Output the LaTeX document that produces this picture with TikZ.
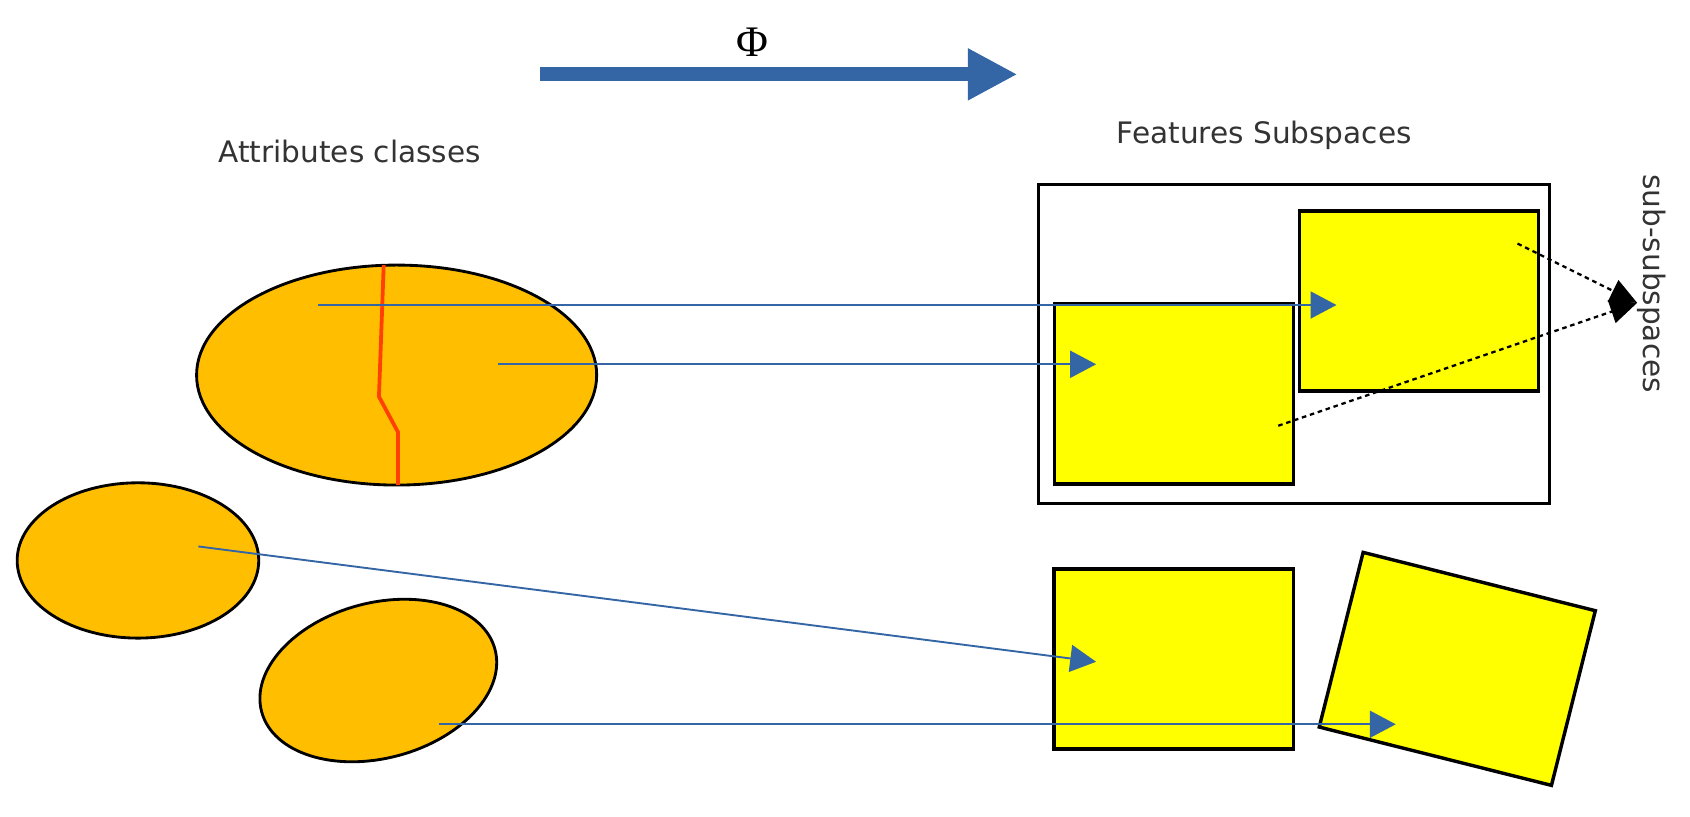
\documentclass[tikz,border=0pt]{standalone}
\usepackage{fontspec}
\setmainfont{DejaVu Sans}
\newfontfamily\phifont{Liberation Serif}
\usetikzlibrary{shapes.geometric,arrows.meta}

\definecolor{attrorange}{HTML}{FFBF00}
\definecolor{featyellow}{HTML}{FFFF00}
\definecolor{phiblue}{HTML}{3465A4}
\definecolor{cutred}{HTML}{FF4000}

\begin{document}
\begin{tikzpicture}[x=0.01cm, y=-0.01cm,
        attr/.style={ellipse, draw=black, line width=0.75pt, fill=attrorange,
            inner sep=0pt, minimum width=2.24cm, minimum height=1.44cm},
        feat/.style={rectangle, draw=black, line width=0.9pt, fill=featyellow,
            inner sep=0pt, minimum width=2.22cm, minimum height=1.67cm},
        maparrow/.style={draw=phiblue, line width=0.5pt,
            -{Triangle[length=0.24cm, width=0.25cm]}},
        subarrow/.style={draw=black, line width=0.6pt, dash pattern=on 1.2pt off 1pt,
            -{Triangle[length=0.25cm, width=0.22cm]}},
        lbl/.style={font=\fontsize{7.8}{9}\selectfont, text=black!80, inner sep=0pt}]

        \useasboundingbox (0,0) rectangle (1568,758);

        % Phi mapping
        \coordinate (phiL) at (501,69);
        \coordinate (phiR) at (944,69);
        \draw[phiblue, line width=0.13cm, -{Triangle[length=0.46cm, width=0.45cm]}] (phiL) -- (phiR);
        \node[font=\phifont\fontsize{11.5}{12}\selectfont, inner sep=0pt] (phi) at (698,39) {Φ};

        % Labels
        \node[lbl, anchor=base] (attrlbl) at (324.5,151) {Attributes classes};
        \node[lbl, anchor=base] (featlbl) at (1173,133) {Features Subspaces};
        \node[lbl, anchor=base west, rotate=-90] (sublbl) at (1525,161) {sub-subspaces};

        % Feature subspaces
        \node[draw=black, line width=0.75pt, inner sep=0pt,
            minimum width=4.74cm, minimum height=2.96cm] (space) at (1200.3,318.9) {};
        \node[feat] (fs1) at (1089.2,365.5) {};
        \node[feat] (fs2) at (1316.5,279.3) {};
        \node[feat] (fs3) at (1089,611.5) {};
        \node[feat, rotate=-14.1] (fs4) at (1352.1,620.6) {};

        % Attribute classes
        \node[attr, minimum width=3.71cm, minimum height=2.04cm] (big) at (368,348) {};
        \node[attr] (small) at (128,520) {};
        \node[attr, rotate=15] (tilted) at (351,631.4) {};
        \draw[cutred, line width=1pt] (356,246) -- (351.6,368) -- (369.3,401) -- (369.3,450);

        % Mappings
        \coordinate (a1) at (295,283);
        \coordinate (b1) at (1240,283);
        \coordinate (a2) at (462,338);
        \coordinate (b2) at (1017,338);
        \coordinate (a3) at (184,507);
        \coordinate (b3) at (1017,614);
        \coordinate (a4) at (407,672);
        \coordinate (b4) at (1295,672);
        \draw[maparrow] (a1) -- (b1);
        \draw[maparrow] (a2) -- (b2);
        \draw[maparrow] (a3) -- (b3);
        \draw[maparrow] (a4) -- (b4);

        % Sub-subspaces
        \coordinate (c1) at (1408,226);
        \coordinate (c2) at (1186,395);
        \coordinate (meet) at (1519,281);
        \draw[subarrow] (c1) -- (meet);
        \draw[subarrow] (c2) -- (meet);
    \end{tikzpicture}
\end{document}
